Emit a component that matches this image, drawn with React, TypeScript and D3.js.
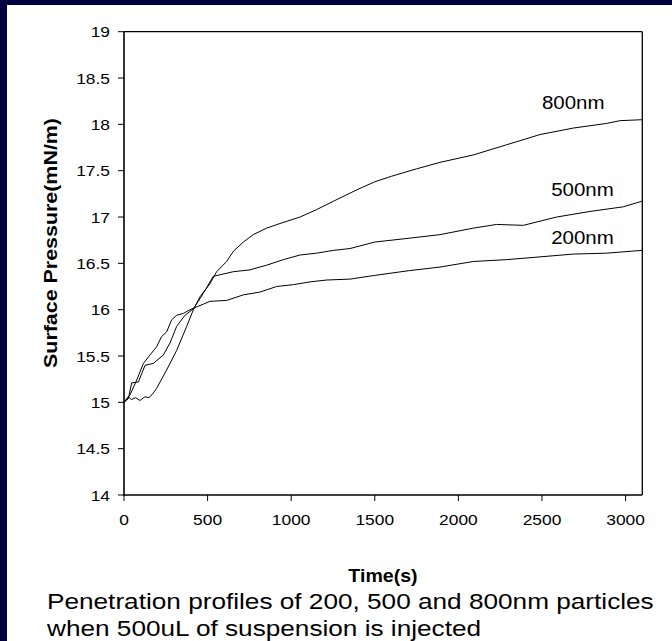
import React from "react";
import * as d3 from "d3";

const W = 672;
const H = 641;

const yTicks = [14, 14.5, 15, 15.5, 16, 16.5, 17, 17.5, 18, 18.5, 19];
const xTicks = [0, 500, 1000, 1500, 2000, 2500, 3000];

const s800: [number, number][] = [
  [0, 15.0], [25, 15.06], [45, 15.03], [70, 15.05], [95, 15.02], [125, 15.06], [150, 15.05],
  [175, 15.1], [195, 15.15], [255, 15.35], [315, 15.56], [375, 15.82], [415, 16.0],
  [455, 16.14], [514, 16.28], [554, 16.41], [614, 16.52], [654, 16.63], [714, 16.73],
  [773, 16.81], [853, 16.88], [933, 16.93], [1053, 17.0], [1152, 17.08], [1252, 17.17],
  [1400, 17.3], [1500, 17.38], [1600, 17.44], [1750, 17.52], [1890, 17.59], [2089, 17.67],
  [2289, 17.78], [2488, 17.89], [2687, 17.96], [2887, 18.01], [2967, 18.04], [3097, 18.05],
];

const s500: [number, number][] = [
  [0, 15.0], [26, 15.04], [46, 15.21], [86, 15.22], [106, 15.31], [126, 15.4], [175, 15.42],
  [235, 15.51], [275, 15.64], [315, 15.82], [365, 15.94], [415, 16.01], [455, 16.12],
  [495, 16.24], [534, 16.36], [654, 16.41], [754, 16.43], [853, 16.48], [953, 16.54],
  [1053, 16.59], [1152, 16.61], [1252, 16.64], [1352, 16.66], [1500, 16.73], [1700, 16.77],
  [1890, 16.81], [2089, 16.88], [2229, 16.92], [2388, 16.91], [2588, 17.0], [2787, 17.06],
  [2986, 17.11], [3097, 17.17],
];

const s200: [number, number][] = [
  [0, 15.0], [36, 15.08], [76, 15.24], [116, 15.42], [155, 15.51], [195, 15.6], [225, 15.71],
  [255, 15.76], [285, 15.89], [315, 15.94], [355, 15.96], [395, 16.0], [435, 16.03],
  [475, 16.06], [514, 16.09], [614, 16.1], [714, 16.16], [813, 16.19], [913, 16.25],
  [1013, 16.27], [1112, 16.3], [1212, 16.32], [1352, 16.33], [1500, 16.37], [1700, 16.42],
  [1890, 16.46], [2089, 16.52], [2289, 16.54], [2488, 16.57], [2687, 16.6], [2887, 16.61],
  [3097, 16.64],
];

const seriesNames = ["800nm", "500nm", "200nm"];
const seriesData = [s800, s500, s200];
const labelAt: [number, number][] = [[2500, 18.17], [2555, 17.23], [2555, 16.71]];

const captionLines = [
  "Penetration profiles of 200, 500 and 800nm particles",
  "when 500uL of suspension is injected",
];

const FONT = "'Liberation Sans', Arial, Helvetica, sans-serif";

function T(props: {
  x: number; y: number; size: number; sx?: number; anchor?: string; bold?: boolean; children: React.ReactNode;
}) {
  const { x, y, size, sx = 1, anchor = "start", bold = false, children } = props;
  return (
    <text
      transform={`translate(${x},${y}) scale(${sx},1)`}
      fontSize={size}
      fontFamily={FONT}
      fontWeight={bold ? "bold" : "normal"}
      textAnchor={anchor}
      fill="#000"
    >
      {children}
    </text>
  );
}

export default function App() {
  const x = d3.scaleLinear().domain([0, 3100]).range([124, 642.3]);
  const y = d3.scaleLinear().domain([14, 19]).range([495, 31.7]);
  const line = d3
    .line<[number, number]>()
    .x((d) => x(d[0]))
    .y((d) => y(d[1]));

  const [x0, x1] = x.range();
  const [yb, yt] = y.range();

  return (
    <svg
      width={W}
      height={H}
      style={{ position: "absolute", left: 0, top: 0, display: "block" }}
    >
      <rect x={0} y={0} width={W} height={H} fill="#fff" />
      <rect x={0} y={0} width={W} height={5} fill="#000040" />
      <rect x={0} y={0} width={7} height={H} fill="#000040" />

      <line x1={x0} x2={x1} y1={yt} y2={yt} stroke="#000" strokeWidth={1.3} />
      <line x1={x1} x2={x1} y1={yt} y2={yb} stroke="#000" strokeWidth={1.3} />
      <line x1={x0} x2={x0} y1={yt} y2={yb + 0.7} stroke="#000" strokeWidth={1.6} />
      <line x1={x0 - 0.8} x2={x1} y1={yb} y2={yb} stroke="#000" strokeWidth={1.6} />

      {yTicks.map((t) => (
        <g key={"y" + t}>
          <line x1={x0 - 6} x2={x0} y1={y(t)} y2={y(t)} stroke="#000" strokeWidth={1} />
          <T x={110} y={y(t) + 5.5} size={15.4} sx={1.13} anchor="end">
            {String(t)}
          </T>
        </g>
      ))}
      {xTicks.map((t) => (
        <g key={"x" + t}>
          <line x1={x(t)} x2={x(t)} y1={yb} y2={yb + 6} stroke="#000" strokeWidth={1} />
          <T x={x(t)} y={525.3} size={15.4} sx={1.13} anchor="middle">
            {String(t)}
          </T>
        </g>
      ))}

      {seriesData.map((s, i) => (
        <path key={seriesNames[i]} d={line(s) || ""} fill="none" stroke="#000" strokeWidth={1} />
      ))}

      {seriesNames.map((n, i) => (
        <T key={"l" + n} x={x(labelAt[i][0])} y={y(labelAt[i][1])} size={18.6} sx={1.1}>
          {n}
        </T>
      ))}

      <T x={383} y={582} size={17.5} sx={1.12} anchor="middle" bold>
        Time(s)
      </T>

      <text
        transform={`translate(56.7,243) rotate(-90)`}
        fontSize={19}
        fontFamily={FONT}
        fontWeight="bold"
        textAnchor="middle"
        textLength={250}
        lengthAdjust="spacingAndGlyphs"
        fill="#000"
      >
        Surface Pressure(mN/m)
      </text>

      {captionLines.map((c, i) => (
        <T key={"c" + i} x={47} y={609 + i * 26.5} size={22} sx={1.19}>
          {c}
        </T>
      ))}
    </svg>
  );
}
